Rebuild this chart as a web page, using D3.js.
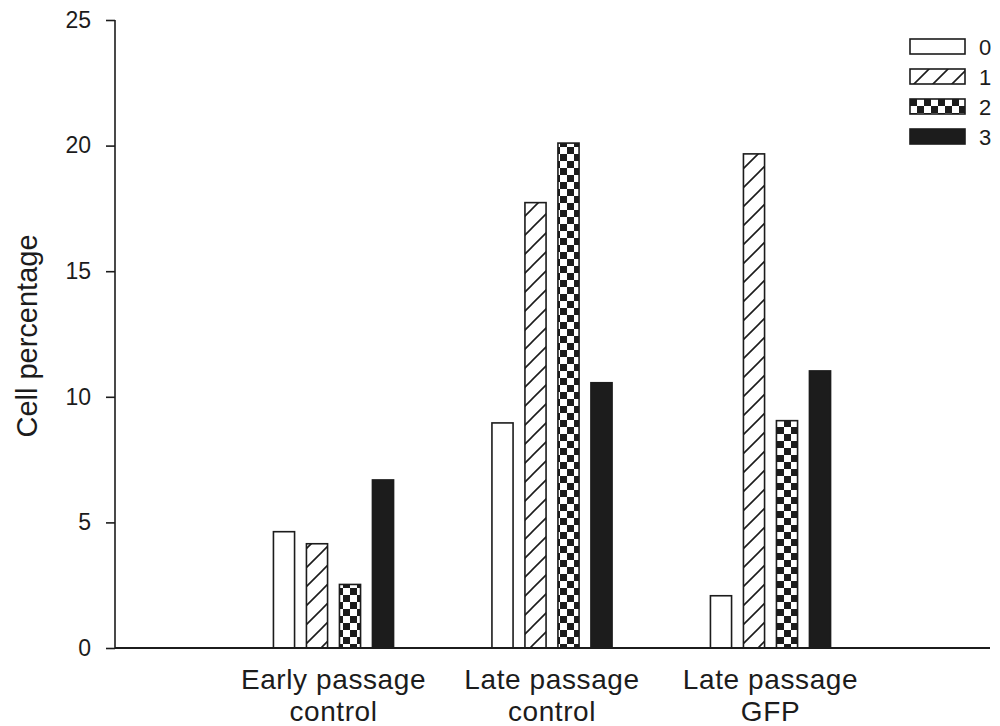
<!DOCTYPE html>
<html>
<head>
<meta charset="utf-8">
<script src="https://cdn.jsdelivr.net/npm/d3@7"></script>
<style>
  body { margin: 0; background: #fff; }
  svg { display: block; font-family: "Liberation Sans", Arial, sans-serif; }
</style>
</head>
<body>
<svg id="chart" width="1000" height="726"></svg>
<script>
// data
const groups = ["Early passage\ncontrol", "Late passage\ncontrol", "Late passage\nGFP"]
const series = ["0", "1", "2", "3"]
const values0 = [4.63, 8.96, 2.08]
const values1 = [4.15, 17.73, 19.67]
const values2 = [2.53, 20.1, 9.05]
const values3 = [6.69, 10.56, 11.03]
const yTicks = [0, 5, 10, 15, 20, 25]

const seriesValues = [values0, values1, values2, values3]
const data = []
groups.forEach((g, gi) => {
    series.forEach((s, si) => {
        data.push({group: gi, series: si, value: seriesValues[si][gi]})
    })
})

const ink = "#1c1c1c"
const svg = d3.select("#chart")

// fill patterns
const defs = svg.append("defs")
const hatch = defs.append("pattern")
    .attr("id", "hatch")
    .attr("patternUnits", "userSpaceOnUse")
    .attr("width", 19).attr("height", 19)
hatch.append("rect").attr("width", 19).attr("height", 19).attr("fill", "#fff")
hatch.append("path")
    .attr("d", "M-2,21 L21,-2 M-2,2 L2,-2 M17,21 L21,17")
    .attr("stroke", ink).attr("stroke-width", 1.6)

const checker = defs.append("pattern")
    .attr("id", "checker")
    .attr("patternUnits", "userSpaceOnUse")
    .attr("width", 14).attr("height", 14)
checker.append("rect").attr("width", 14).attr("height", 14).attr("fill", "#fff")
checker.append("rect").attr("width", 7).attr("height", 7).attr("fill", ink)
checker.append("rect").attr("x", 7).attr("y", 7).attr("width", 7).attr("height", 7).attr("fill", ink)

const fills = ["#fff", "url(#hatch)", "url(#checker)", ink]

let margin = ({top: 20, right: 10, bottom: 78, left: 115})
let width = 1000, height = 726

let x = d3.scaleLinear()
    .domain([0, 4])
    .range([margin.left, 989])
let inner = d3.scaleBand()
    .domain(d3.range(series.length))
    .range([-66, 66])
    .paddingInner(0.36)
    .paddingOuter(0.18)
let y = d3.scaleLinear()
    .domain([0, 25])
    .range([height - margin.bottom, margin.top])

// bars
svg.append("g")
    .selectAll("rect")
    .data(data)
    .join("rect")
    .attr("x", d => x(d.group + 1) + inner(d.series))
    .attr("y", d => y(d.value))
    .attr("width", inner.bandwidth())
    .attr("height", d => y(0) - y(d.value))
    .attr("fill", d => fills[d.series])
    .attr("stroke", ink)
    .attr("stroke-width", 1.6)

// y axis
let yAxis = g => g
    .attr("transform", `translate(${margin.left},0)`)
    .call(d3.axisLeft(y).tickValues(yTicks).tickSize(9).tickPadding(15))
    .call(g => g.select(".domain").attr("d", `M-0,${y(25)}V${y(0)}`))
    .call(g => g.selectAll("line, path").attr("stroke", ink).attr("stroke-width", 1.6))
    .call(g => g.selectAll("text").attr("fill", ink))
svg.append("g")
    .call(yAxis)
    .attr("font-family", null)
    .attr("font-size", 23)

// x axis baseline
svg.append("line")
    .attr("x1", margin.left).attr("x2", 990)
    .attr("y1", y(0)).attr("y2", y(0))
    .attr("stroke", ink).attr("stroke-width", 1.8)

// group labels
svg.append("g")
    .attr("font-size", 28)
    .attr("letter-spacing", 0.6)
    .attr("fill", ink)
    .selectAll("text")
    .data(groups)
    .join("text")
    .attr("text-anchor", "middle")
    .attr("x", (d, i) => x(i + 1))
    .attr("y", 689)
    .selectAll("tspan")
    .data(d => d.split("\n"))
    .join("tspan")
    .attr("x", function () { return d3.select(this.parentNode).attr("x") })
    .attr("dy", (d, i) => i ? 32 : 0)
    .text(d => d)

// y title
svg.append("text")
    .attr("transform", `translate(37,${(y(0) + y(25)) / 2 + 2}) rotate(-90)`)
    .attr("text-anchor", "middle")
    .attr("font-size", 29)
    .attr("fill", ink)
    .text("Cell percentage")

// legend
const legend = svg.append("g")
    .selectAll("g")
    .data(series)
    .join("g")
    .attr("transform", (d, i) => `translate(910,${39 + i * 30})`)
legend.append("rect")
    .attr("width", 55).attr("height", 15)
    .attr("fill", (d, i) => fills[i])
    .attr("stroke", ink).attr("stroke-width", 1.6)
legend.append("text")
    .attr("x", 69).attr("y", 16)
    .attr("font-size", 22)
    .attr("fill", ink)
    .text(d => d)
</script>
</body>
</html>
